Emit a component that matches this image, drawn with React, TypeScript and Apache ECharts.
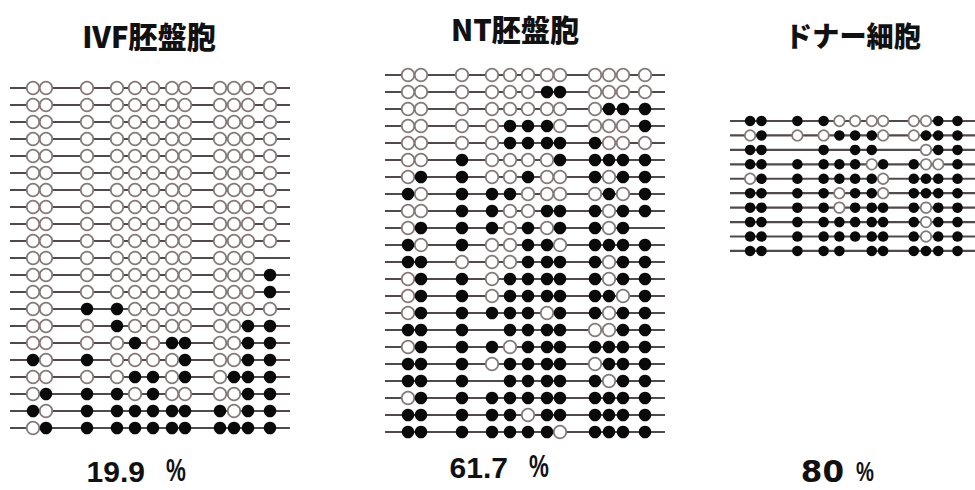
import React, { useEffect, useRef } from 'react';
import * as echarts from 'echarts';

// CpG site positions along each read (relative units, read spans 0..280)
const cpgPositions = [23, 36, 77, 107, 125, 143, 162, 175, 210, 224, 238, 260];
const readLength = 280;

// '1' = methylated (filled), '0' = unmethylated (open), '.' = no data
const ivfRows = [
  '000000000000',
  '000000000000',
  '000000000000',
  '000000000000',
  '000000000000',
  '000000000000',
  '000000000000',
  '000000000000',
  '000000000000',
  '000000000000',
  '00000000000.',
  '000000000001',
  '000000000001',
  '001100000000',
  '000100000011',
  '000010110011',
  '101000010011',
  '000011010111',
  '011101000011',
  '101111111011',
  '011111111111',
];

const ntRows = [
  '000000000000',
  '000000110000',
  '000000000111',
  '000011100001',
  '000011111000',
  '001000011111',
  '011001001011',
  '101110000101',
  '001100111011',
  '01110101101.',
  '101001101111',
  '110001111011',
  '011011111011',
  '011011111101',
  '011111011011',
  '111.11110011',
  '011101111111',
  '111011110111',
  '111.11111011',
  '011111111111',
  '111110111111',
  '111111101111',
];

const donorRows = [
  '111100000011',
  '010011100111',
  '11.1.11..011',
  '111111011001',
  '011111101111',
  '111101101111',
  '111101111011',
  '111111111011',
  '111111111011',
  '11111.111111',
];

const panelTitles = ['IVF胚盤胞', 'NT胚盤胞', 'ドナー細胞'];
const percentValues = ['19.9', '61.7', '80'];

// layout (pixels)
const panelLayout = [
  { left: 10, width: 280, firstRow: 88, gap: 17, size: 12.5 },
  { left: 385, width: 280, firstRow: 75, gap: 17, size: 12.5 },
  { left: 730, width: 248, firstRow: 121, gap: 14.44, size: 10.5 },
];

const LINE_COLOR = '#524a4a';
const OPEN_BORDER = '#85797a';
const FILL_COLOR = '#0a0a0a';

export default function App() {
  const ref = useRef<HTMLDivElement>(null);

  useEffect(() => {
    if (!ref.current) return;
    const chart = echarts.init(ref.current, undefined, { renderer: 'svg' });
    const allRows = [ivfRows, ntRows, donorRows];

    const grids: any[] = [];
    const xAxes: any[] = [];
    const yAxes: any[] = [];
    const series: any[] = [];

    allRows.forEach((rows, i) => {
      const L = panelLayout[i];
      const n = rows.length;
      grids.push({
        left: L.left,
        top: L.firstRow - L.gap / 2,
        width: L.width,
        height: n * L.gap,
        containLabel: false,
      });
      xAxes.push({ type: 'value', gridIndex: i, min: 0, max: readLength, show: false });
      yAxes.push({ type: 'value', gridIndex: i, min: -0.5, max: n - 0.5, inverse: true, show: false });

      series.push({
        type: 'custom',
        xAxisIndex: i,
        yAxisIndex: i,
        silent: true,
        clip: false,
        z: 1,
        data: rows.map((_, r) => [0, r]),
        renderItem: (params: any, api: any) => {
          const r = api.value(1);
          const p1 = api.coord([0, r]);
          const p2 = api.coord([readLength, r]);
          return {
            type: 'line',
            shape: { x1: p1[0], y1: p1[1], x2: p2[0], y2: p2[1] },
            style: { stroke: LINE_COLOR, lineWidth: 2.2 },
          };
        },
      });

      const openPts: number[][] = [];
      const filledPts: number[][] = [];
      rows.forEach((row, r) => {
        row.split('').forEach((c, k) => {
          if (c === '0') openPts.push([cpgPositions[k], r]);
          else if (c === '1') filledPts.push([cpgPositions[k], r]);
        });
      });

      series.push({
        type: 'scatter',
        xAxisIndex: i,
        yAxisIndex: i,
        silent: true,
        z: 2,
        symbol: 'circle',
        symbolSize: L.size,
        itemStyle: { color: '#ffffff', borderColor: OPEN_BORDER, borderWidth: 1.7, opacity: 1 },
        data: openPts,
      });
      series.push({
        type: 'scatter',
        xAxisIndex: i,
        yAxisIndex: i,
        silent: true,
        z: 3,
        symbol: 'circle',
        symbolSize: L.size,
        itemStyle: { color: FILL_COLOR, opacity: 1 },
        data: filledPts,
      });
    });

    const titlePos = [
      { x: 149, y: 35, size: 30 },
      { x: 515, y: 28, size: 30 },
      { x: 853, y: 35, size: 28 },
    ];
    const pctPos = [
      { numRight: 145, pctLeft: 166, y: 471, size: 30, pctSize: 31, font: 'Liberation Sans' },
      { numRight: 508, pctLeft: 529, y: 467, size: 30, pctSize: 31, font: 'Liberation Sans' },
      { numRight: 844, pctLeft: 856, y: 471, size: 31, pctSize: 28, font: 'DejaVu Sans' },
    ];

    const graphic: any[] = [];
    panelTitles.forEach((t, i) => {
      const p = titlePos[i];
      graphic.push({
        type: 'text',
        x: p.x,
        y: p.y,
        scaleX: 0.97,
        style: {
          text: t,
          fill: '#111',
          font: `900 ${p.size}px "Noto Sans CJK JP", sans-serif`,
          textAlign: 'center',
          textVerticalAlign: 'middle',
        },
      });
    });
    percentValues.forEach((v, i) => {
      const p = pctPos[i];
      graphic.push({
        type: 'text',
        x: p.numRight,
        y: p.y,
        style: {
          text: v,
          fill: '#111',
          font: `bold ${p.size}px "${p.font}", sans-serif`,
          textAlign: 'right',
          textVerticalAlign: 'middle',
        },
      });
      graphic.push({
        type: 'text',
        x: p.pctLeft,
        y: p.y,
        scaleX: 0.72,
        style: {
          text: '%',
          fill: '#111',
          font: `bold ${p.pctSize}px "Liberation Sans", sans-serif`,
          textAlign: 'left',
          textVerticalAlign: 'middle',
        },
      });
    });

    chart.setOption({
      animation: false,
      backgroundColor: '#ffffff',
      grid: grids,
      xAxis: xAxes,
      yAxis: yAxes,
      series,
      graphic,
    });

    return () => chart.dispose();
  }, []);

  return (
    <div
      ref={ref}
      style={{ position: 'fixed', left: 0, top: 0, width: 975, height: 490 }}
    />
  );
}
